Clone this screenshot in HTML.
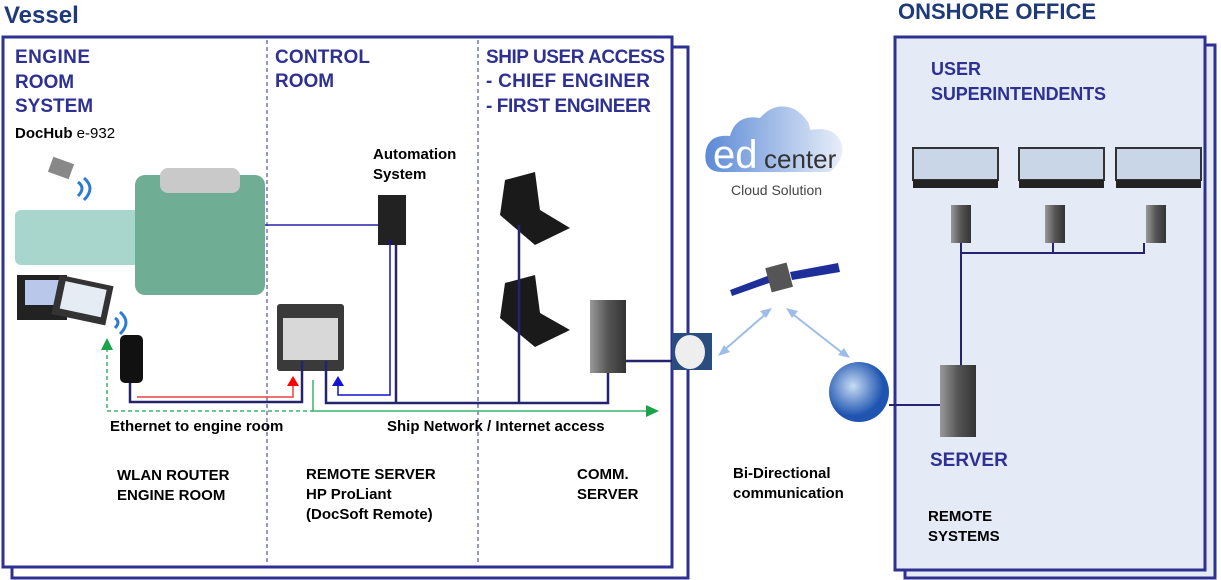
<!DOCTYPE html>
<html><head><meta charset="utf-8"><style>
html,body{margin:0;padding:0;background:#fff;}
svg{display:block;font-family:"Liberation Sans",sans-serif;}
.h{fill:#2e3192;font-weight:bold;font-size:19px;}
.t{fill:#000;font-weight:bold;font-size:15px;}
</style></head><body>
<svg width="1221" height="580" viewBox="0 0 1221 580">
<defs>
<linearGradient id="cl" x1="0" x2="1"><stop offset="0" stop-color="#5c8ad6"/><stop offset="1" stop-color="#e8eef9"/></linearGradient>
<radialGradient id="gl" cx="0.4" cy="0.4"><stop offset="0" stop-color="#c8dcf5"/><stop offset="1" stop-color="#1f55b0"/></radialGradient>
<linearGradient id="sv" x1="0" x2="1"><stop offset="0" stop-color="#999"/><stop offset="0.5" stop-color="#555"/><stop offset="1" stop-color="#333"/></linearGradient>
</defs>
<polyline points="672,47 688,47 688,578 12,578 12,567" fill="none" stroke="#2e3192" stroke-width="3"/>
<rect x="3" y="37" width="669" height="530" fill="#fff" stroke="#2e3192" stroke-width="3"/>
<line x1="267" y1="40" x2="267" y2="565" stroke="#2e3192" stroke-dasharray="4,3"/>
<line x1="478" y1="40" x2="478" y2="565" stroke="#2e3192" stroke-dasharray="4,3"/>
<text x="4" y="23" style="fill:#1f3a78;font-weight:bold;font-size:24px">Vessel</text>
<text class="h" x="15" y="63" textLength="75">ENGINE</text>
<text class="h" x="15" y="88">ROOM</text>
<text class="h" x="15" y="112">SYSTEM</text>
<text x="15" y="138" style="font-size:15px"><tspan font-weight="bold">DocHub</tspan> e-932</text>
<text class="h" x="275" y="63" textLength="95">CONTROL</text>
<text class="h" x="275" y="87">ROOM</text>
<text class="h" x="486" y="63" textLength="179">SHIP USER ACCESS</text>
<text class="h" x="486" y="87" textLength="164">- CHIEF ENGINER</text>
<text class="h" x="486" y="112" textLength="165">- FIRST ENGINEER</text>
<text class="t" x="373" y="159">Automation</text>
<text class="t" x="373" y="179">System</text>

<rect x="15" y="210" width="125" height="55" rx="6" fill="#a9d6cc"/>
<rect x="135" y="175" width="130" height="120" rx="10" fill="#6fae95"/>
<rect x="160" y="168" width="80" height="25" rx="8" fill="#c9c9c9"/>
<rect x="50" y="160" width="22" height="16" fill="#888" transform="rotate(20 61 168)"/>
<path d="M78,182 q8,6 0,14 M84,178 q12,10 0,22" fill="none" stroke="#2a7bd6" stroke-width="3"/>
<rect x="17" y="275" width="50" height="45" fill="#222"/><rect x="25" y="280" width="35" height="25" fill="#b8c7ea"/>
<rect x="55" y="280" width="55" height="40" fill="#333" transform="rotate(12 82 300)"/><rect x="62" y="285" width="42" height="28" fill="#e6ecf4" transform="rotate(12 82 300)"/>
<path d="M115,318 q6,4 0,10 M120,312 q12,10 0,22" fill="none" stroke="#2a7bd6" stroke-width="3"/>
<rect x="120" y="335" width="23" height="48" rx="5" fill="#111"/>

<rect x="378" y="195" width="28" height="50" fill="#222"/>
<line x1="265" y1="225" x2="378" y2="225" stroke="#2323a8" stroke-width="1.5"/>
<rect x="277" y="304" width="67" height="67" rx="3" fill="#3a3a3a"/>
<rect x="283" y="318" width="55" height="42" fill="#d8d8d8"/>
<path d="M505,180 L535,172 L540,210 L570,228 L535,245 L500,215 Z" fill="#1a1a1a"/>
<path d="M505,283 L535,275 L540,313 L570,330 L535,347 L500,318 Z" fill="#1a1a1a"/>
<rect x="590" y="300" width="36" height="73" fill="url(#sv)"/>
<g fill="none" stroke="#24246e" stroke-width="2.5">
<polyline points="130,383 130,402 302,402 302,361"/>
<polyline points="326,361 326,403 608,403 608,373"/>
<line x1="396" y1="245" x2="396" y2="403"/>
<line x1="519" y1="225" x2="519" y2="403"/>
<line x1="626" y1="361" x2="672" y2="361"/>
</g>
<polyline points="390,240 390,395 338,395 338,384" fill="none" stroke="#1212d0" stroke-width="1.5"/>
<polygon points="332,386 344,386 338,376" fill="#1212d0"/>
<polyline points="137,397 293,397 293,386" fill="none" stroke="#f04040" stroke-width="1.5"/>
<polygon points="287,386 299,386 293,376" fill="#f00"/>
<polyline points="107,348 107,411 313,411" fill="none" stroke="#3cb46e" stroke-width="1.5" stroke-dasharray="4,3"/>
<polygon points="101,350 113,350 107,338" fill="#1aa34a"/>
<polyline points="313,380 313,411 648,411" fill="none" stroke="#3cb46e" stroke-width="1.5"/>
<polygon points="646,405 646,417 659,411" fill="#1aa34a"/>
<text class="t" x="110" y="431">Ethernet to engine room</text>
<text class="t" x="387" y="431">Ship Network / Internet access</text>
<text class="t" x="117" y="480">WLAN ROUTER</text>
<text class="t" x="117" y="500">ENGINE ROOM</text>
<text class="t" x="306" y="479">REMOTE SERVER</text>
<text class="t" x="306" y="499">HP ProLiant</text>
<text class="t" x="306" y="519">(DocSoft Remote)</text>
<text class="t" x="577" y="479">COMM.</text>
<text class="t" x="577" y="499">SERVER</text>

<rect x="672" y="333" width="40" height="37" fill="#2b4c7e"/>
<ellipse cx="690" cy="352" rx="15" ry="17" fill="#eee"/>

<path d="M722,172 q-20,0 -16,-22 q4,-16 24,-14 q6,-22 30,-18 q16,-18 36,-8 q14,10 14,20 q22,-4 30,10 q8,16 -10,32 z" fill="url(#cl)"/>
<text x="713" y="168" style="font-size:40px;fill:#fff">ed</text>
<text x="764" y="168" style="font-size:26px;fill:#333">center</text>
<text x="731" y="195" style="font-size:14px;fill:#444">Cloud Solution</text>
<polygon points="730,290 770,275 772,282 732,296" fill="#1f2f99"/>
<polygon points="790,272 838,263 840,272 792,280" fill="#1f2f99"/>
<rect x="768" y="265" width="22" height="25" fill="#555" transform="rotate(-15 779 277)"/>
<g stroke="#9dbde8" stroke-width="2"><line x1="722" y1="352" x2="768" y2="312"/><line x1="790" y1="312" x2="845" y2="355"/></g>
<polygon points="718,356 730,352 724,345" fill="#9dbde8"/>
<polygon points="772,308 760,311 766,318" fill="#9dbde8"/>
<polygon points="786,308 798,311 792,318" fill="#9dbde8"/>
<polygon points="850,358 838,355 844,348" fill="#9dbde8"/>
<circle cx="859" cy="392" r="30" fill="url(#gl)"/>
<text class="t" x="733" y="478">Bi-Directional</text>
<text class="t" x="733" y="498">communication</text>

<text x="898" y="19" style="fill:#1f3a78;font-weight:bold;font-size:22px">ONSHORE OFFICE</text>
<rect x="905" y="45" width="310" height="533" fill="#e4eaf6" stroke="#2e3192" stroke-width="3"/>
<rect x="895" y="37" width="310" height="533" fill="#e4eaf6" stroke="#2e3192" stroke-width="3"/>
<line x1="889" y1="405" x2="940" y2="405" stroke="#24246e" stroke-width="2"/>
<text class="h" x="931" y="75" style="font-size:18px">USER</text>
<text class="h" x="931" y="100" style="font-size:18px" textLength="175">SUPERINTENDENTS</text>
<g>
<rect x="913" y="148" width="85" height="32" fill="#c8d6e8" stroke="#333" stroke-width="2"/><rect x="913" y="180" width="85" height="8" fill="#222"/>
<rect x="1019" y="148" width="85" height="32" fill="#c8d6e8" stroke="#333" stroke-width="2"/><rect x="1019" y="180" width="85" height="8" fill="#222"/>
<rect x="1116" y="148" width="85" height="32" fill="#c8d6e8" stroke="#333" stroke-width="2"/><rect x="1116" y="180" width="85" height="8" fill="#222"/>
<rect x="951" y="205" width="20" height="38" fill="url(#sv)"/>
<rect x="1045" y="205" width="20" height="38" fill="url(#sv)"/>
<rect x="1146" y="205" width="20" height="38" fill="url(#sv)"/>
</g>
<polyline points="961,243 961,370" fill="none" stroke="#24246e" stroke-width="2"/>
<polyline points="961,253 1144,253 1144,243" fill="none" stroke="#24246e" stroke-width="2"/>
<line x1="1053" y1="243" x2="1053" y2="253" stroke="#24246e" stroke-width="2"/>
<rect x="940" y="365" width="36" height="72" fill="url(#sv)"/>
<text class="h" x="930" y="466">SERVER</text>
<text class="t" x="928" y="521">REMOTE</text>
<text class="t" x="928" y="541">SYSTEMS</text>
</svg>
</body></html>
